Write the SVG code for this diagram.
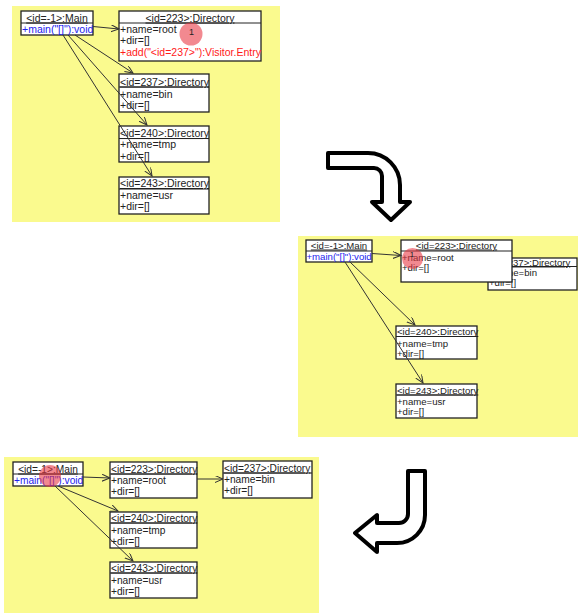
<svg xmlns="http://www.w3.org/2000/svg" width="578" height="613" viewBox="0 0 578 613">
  <defs>
    <marker id="open" markerUnits="userSpaceOnUse" markerWidth="10" markerHeight="10" refX="8" refY="3.5" orient="auto">
      <path d="M0,0 L8,3.5 L0,7" fill="none" stroke="#333" stroke-width="1"/>
    </marker>
    <style>
      .bg { fill: #fafa8e; }
      .box { fill: #ffffff; stroke: #222; stroke-width: 1.3; }
      .div { stroke: #222; stroke-width: 1; }
      .t { font-family: "Liberation Sans", Arial, sans-serif; fill: #222; }
      .p1 { font-size: 10.5px; }
      .p2 { font-size: 9.6px; }
      .p3 { font-size: 10.2px; }
      .hd { text-decoration: underline; }
      .mid { text-anchor: middle; }
      .m { fill: #2222ee; }
      .red { fill: #ff1a1a; }
      .edge { stroke: #333; stroke-width: 1; fill: none; marker-end: url(#open); }
      .spot { fill: #e8343f; fill-opacity: 0.58; }
      .num { font-family: "Liberation Sans", Arial, sans-serif; font-size: 9px; fill: #222; text-anchor: middle; }
      .big { fill: #ffffff; stroke: #000; stroke-width: 4; stroke-linejoin: round; }
    </style>
  </defs>

  <!-- first state -->
  <g id="state1">
    <rect class="bg" x="12" y="6" width="268" height="216"/>
    <g id="s1-main">
      <rect class="box" x="21" y="11" width="72" height="24"/>
      <line class="div" x1="21" y1="23" x2="93" y2="23"/>
      <text class="t p1 hd mid" x="57" y="21.5">&lt;id=-1&gt;:Main</text>
      <text class="t p1 m" x="22" y="32.5">+main("[]"):void</text>
    </g>
    <g id="s1-d223">
      <rect class="box" x="119" y="11" width="142" height="50"/>
      <line class="div" x1="119" y1="23" x2="261" y2="23"/>
      <text class="t p1 hd mid" x="190" y="21.5">&lt;id=223&gt;:Directory</text>
      <text class="t p1" x="120" y="33">+name=root</text>
      <text class="t p1" x="120" y="44">+dir=[]</text>
      <text class="t p1 red" x="120" y="55.5">+add("&lt;id=237&gt;"):Visitor.Entry</text>
    </g>
    <g id="s1-d237">
      <rect class="box" x="119" y="74" width="90" height="38"/>
      <line class="div" x1="119" y1="87" x2="209" y2="87"/>
      <text class="t p1 hd" x="120" y="85.5">&lt;id=237&gt;:Directory</text>
      <text class="t p1" x="120" y="98">+name=bin</text>
      <text class="t p1" x="120" y="109">+dir=[]</text>
    </g>
    <g id="s1-d240">
      <rect class="box" x="119" y="126" width="90" height="36"/>
      <line class="div" x1="119" y1="138.5" x2="209" y2="138.5"/>
      <text class="t p1 hd" x="120" y="137">&lt;id=240&gt;:Directory</text>
      <text class="t p1" x="120" y="148">+name=tmp</text>
      <text class="t p1" x="120" y="159.5">+dir=[]</text>
    </g>
    <g id="s1-d243">
      <rect class="box" x="119" y="177" width="90" height="37"/>
      <line class="div" x1="119" y1="189" x2="209" y2="189"/>
      <text class="t p1 hd" x="120" y="187">&lt;id=243&gt;:Directory</text>
      <text class="t p1" x="120" y="199">+name=usr</text>
      <text class="t p1" x="120" y="210">+dir=[]</text>
    </g>
    <g id="s1-edges">
      <line class="edge" x1="93" y1="26.5" x2="119" y2="29"/>
      <line class="edge" x1="75" y1="35" x2="133" y2="73"/>
      <line class="edge" x1="68" y1="35" x2="147" y2="125"/>
      <line class="edge" x1="63" y1="35" x2="152" y2="176"/>
    </g>
    <g id="s1-mark">
      <circle class="spot" cx="191" cy="34" r="11.5"/>
      <text class="num" x="191.5" y="35">1</text>
    </g>
  </g>

  <!-- turn arrow: right then down -->
  <path id="arrow1" class="big" d="M328 153 L368 153 A32 32 0 0 1 400 185 L400 202 L410 202 L391 220 L372 202 L382 202 L382 176 A8 8 0 0 0 374 168 L328 168 Z"/>

  <!-- second state -->
  <g id="state2">
    <rect class="bg" x="298" y="236" width="280" height="201"/>
    <g id="s2-main">
      <rect class="box" x="306" y="240" width="66" height="22"/>
      <line class="div" x1="306" y1="251" x2="372" y2="251"/>
      <text class="t p2 hd mid" x="339" y="248.5">&lt;id=-1&gt;:Main</text>
      <text class="t p2 m" x="306.5" y="260">+main("[]"):void</text>
    </g>
    <g id="s2-d237">
      <rect class="box" x="488" y="258" width="89" height="32"/>
      <line class="div" x1="488" y1="266.5" x2="577" y2="266.5"/>
      <text class="t p2 hd" x="489" y="265.5">&lt;id=237&gt;:Directory</text>
      <text class="t p2" x="489" y="276">+name=bin</text>
      <text class="t p2" x="489" y="286">+dir=[]</text>
    </g>
    <g id="s2-d223">
      <rect class="box" x="401" y="240" width="111" height="42"/>
      <line class="div" x1="401" y1="251" x2="512" y2="251"/>
      <text class="t p2 hd mid" x="456.5" y="248.5">&lt;id=223&gt;:Directory</text>
      <text class="t p2" x="402" y="260.5">+name=root</text>
      <text class="t p2" x="402" y="270.5">+dir=[]</text>
    </g>
    <g id="s2-d240">
      <rect class="box" x="396" y="326" width="81" height="33"/>
      <line class="div" x1="396" y1="336.5" x2="477" y2="336.5"/>
      <text class="t p2 hd" x="397" y="335">&lt;id=240&gt;:Directory</text>
      <text class="t p2" x="397" y="346.5">+name=tmp</text>
      <text class="t p2" x="397" y="356.5">+dir=[]</text>
    </g>
    <g id="s2-d243">
      <rect class="box" x="396" y="384" width="81" height="34"/>
      <line class="div" x1="396" y1="395" x2="477" y2="395"/>
      <text class="t p2 hd" x="397" y="393.5">&lt;id=243&gt;:Directory</text>
      <text class="t p2" x="397" y="405">+name=usr</text>
      <text class="t p2" x="397" y="415">+dir=[]</text>
    </g>
    <g id="s2-edges">
      <line class="edge" x1="372" y1="253.5" x2="401" y2="255.5"/>
      <line class="edge" x1="350" y1="262" x2="415" y2="325"/>
      <line class="edge" x1="345" y1="262" x2="423" y2="383"/>
    </g>
    <g id="s2-mark">
      <circle class="spot" cx="412.5" cy="258.5" r="10.5"/>
      <text class="num" x="412" y="257" style="font-size:8px">1</text>
    </g>
  </g>

  <!-- turn arrow: down then left -->
  <path id="arrow2" class="big" d="M408 471 L425 471 L425 515 A28 28 0 0 1 397 543 L377 543 L377 552 L355 533 L377 515 L377 523 L399 523 A9 9 0 0 0 408 514 Z"/>

  <!-- third state -->
  <g id="state3">
    <rect class="bg" x="4" y="457" width="315" height="156"/>
    <g id="s3-main">
      <rect class="box" x="13" y="462" width="70" height="24"/>
      <line class="div" x1="13" y1="474" x2="83" y2="474"/>
      <text class="t p3 hd mid" x="48" y="472.5">&lt;id=-1&gt;:Main</text>
      <text class="t p3 m" x="14" y="483.5">+main("[]"):void</text>
    </g>
    <g id="s3-d223">
      <rect class="box" x="110" y="462" width="87" height="36"/>
      <line class="div" x1="110" y1="474" x2="197" y2="474"/>
      <text class="t p3 hd" x="111" y="472.5">&lt;id=223&gt;:Directory</text>
      <text class="t p3" x="111" y="483.5">+name=root</text>
      <text class="t p3" x="111" y="494.5">+dir=[]</text>
    </g>
    <g id="s3-d237">
      <rect class="box" x="223" y="461" width="89" height="37"/>
      <line class="div" x1="223" y1="473" x2="312" y2="473"/>
      <text class="t p3 hd" x="224" y="471.5">&lt;id=237&gt;:Directory</text>
      <text class="t p3" x="224" y="482.5">+name=bin</text>
      <text class="t p3" x="224" y="493.5">+dir=[]</text>
    </g>
    <g id="s3-d240">
      <rect class="box" x="110" y="512" width="87" height="36"/>
      <line class="div" x1="110" y1="523" x2="197" y2="523"/>
      <text class="t p3 hd" x="111" y="521.5">&lt;id=240&gt;:Directory</text>
      <text class="t p3" x="111" y="533.5">+name=tmp</text>
      <text class="t p3" x="111" y="545">+dir=[]</text>
    </g>
    <g id="s3-d243">
      <rect class="box" x="110" y="562" width="87" height="36"/>
      <line class="div" x1="110" y1="573" x2="197" y2="573"/>
      <text class="t p3 hd" x="111" y="571.5">&lt;id=243&gt;:Directory</text>
      <text class="t p3" x="111" y="584">+name=usr</text>
      <text class="t p3" x="111" y="594.5">+dir=[]</text>
    </g>
    <g id="s3-edges">
      <line class="edge" x1="83" y1="477" x2="110" y2="478"/>
      <line class="edge" x1="197" y1="479" x2="223" y2="479"/>
      <line class="edge" x1="58" y1="486" x2="118" y2="511"/>
      <line class="edge" x1="55" y1="486" x2="133" y2="561"/>
    </g>
    <g id="s3-mark">
      <circle class="spot" cx="50" cy="476" r="11"/>
    </g>
  </g>
</svg>
